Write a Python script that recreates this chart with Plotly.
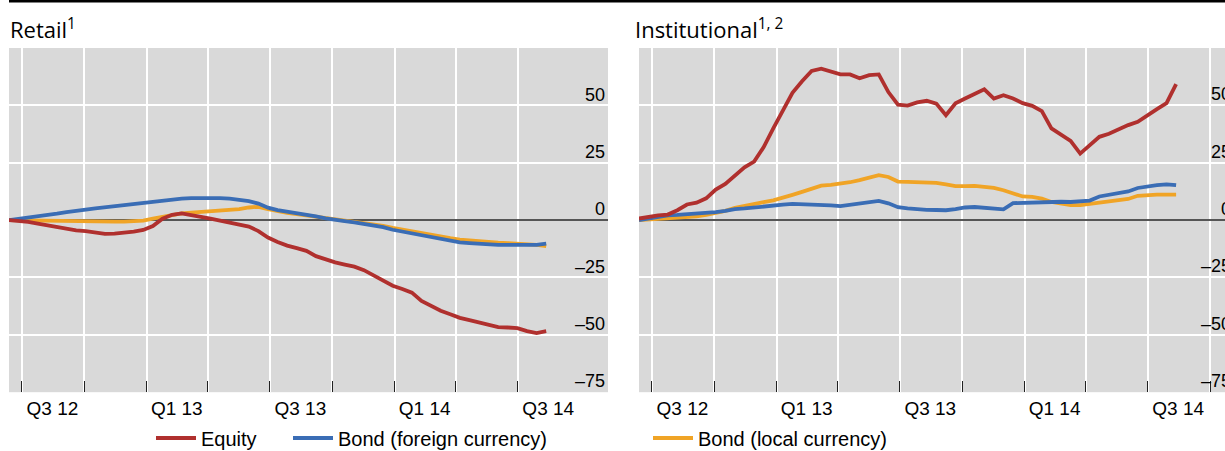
import plotly.graph_objects as go
import pandas as pd

# biweekly observations, mid-June 2012 to mid-August 2014
dates = pd.date_range("2012-06-12", "2014-08-12", periods=57)

retail_equity = [
    0, -0.3, -0.8, -1.5, -2.3, -3.2, -4.1, -4.5, -4.8, -5.4,
    -6.0, -5.9, -5.6, -5.0, -4.3, -2.6, 0.6, 2.3, 2.9, 2.3,
    1.4, 0.6, -0.2, -0.9, -1.8, -2.8, -4.8, -7.6, -9.5, -11.1,
    -12.2, -13.4, -15.7, -17.2, -18.4, -19.4, -20.3, -21.8, -24.0, -26.1,
    -28.6, -30.0, -31.6, -35.2, -37.5, -39.5, -41.0, -42.6, -43.6, -44.6,
    -45.6, -46.6, -46.8, -47.1, -48.4, -49.2, -48.4,
]
retail_bond_fx = [
    0, 0.5, 1.0, 1.6, 2.2, 2.8, 3.5, 4.2, 4.6, 5.1,
    5.6, 6.0, 6.5, 7.0, 7.4, 8.0, 8.7, 9.2, 9.4, 9.6,
    9.7, 9.7, 9.6, 9.4, 9.0, 8.3, 7.2, 5.4, 4.4, 3.8,
    3.2, 2.5, 1.6, 0.8, 0.0, -0.4, -1.0, -1.6, -2.3, -3.1,
    -4.2, -5.0, -5.8, -6.7, -7.5, -8.4, -9.1, -9.7, -10.0, -10.4,
    -10.6, -10.8, -10.8, -10.8, -10.8, -10.8, -10.3,
]
retail_bond_local = [
    0, -0.1, -0.1, -0.2, -0.2, -0.2, -0.3, -0.3, -0.4, -0.5,
    -0.6, -0.7, -0.7, -0.5, -0.2, 0.6, 1.5, 2.4, 2.9, 3.3,
    3.6, 3.9, 4.1, 4.4, 4.8, 5.5, 5.8, 4.8, 3.9, 3.2,
    2.6, 2.0, 1.4, 0.7, 0.0, -0.3, -0.8, -1.3, -1.8, -2.5,
    -3.4, -4.2, -5.0, -5.7, -6.5, -7.2, -7.9, -8.5, -8.9, -9.3,
    -9.6, -9.8, -10.0, -10.2, -10.4, -10.8, -11.3,
]
inst_equity = [
    0.7, 1.5, 2.1, 2.4, 4.3, 6.8, 7.6, 9.5, 13.3, 15.8,
    19.5, 23.0, 25.5, 31.8, 40.0, 48.0, 55.5, 60.5, 65.0, 66.0,
    64.8, 63.5, 63.5, 61.8, 63.2, 63.5, 55.8, 50.3, 49.9, 51.3,
    52.0, 50.8, 45.7, 50.9, 53.0, 54.8, 57.0, 53.0, 54.4, 53.0,
    51.0, 49.8, 47.5, 40.0, 37.3, 34.5, 29.0, 32.5, 36.3, 37.6,
    39.5, 41.4, 42.8, 45.8, 48.4, 51.0, 59.3,
]
inst_bond_fx = [
    0, 0.8, 1.5, 2.1, 2.3, 2.5, 2.7, 3.0, 3.5, 4.0,
    4.8, 5.1, 5.4, 5.7, 6.1, 6.7, 7.1, 7.0, 6.9, 6.7,
    6.4, 6.1, 6.6, 7.4, 8.0, 8.4, 7.3, 5.6, 5.1, 4.7,
    4.5, 4.4, 4.3, 4.8, 5.5, 5.7, 5.3, 4.9, 4.7, 7.4,
    7.6, 7.8, 8.0, 8.1, 8.0, 7.9, 8.2, 8.5, 10.3, 10.9,
    11.7, 12.5, 14.0, 14.8, 15.2, 15.6, 15.2,
]
inst_bond_local = [
    0, 0.2, 0.5, 0.7, 1.0, 1.3, 1.6, 2.3, 3.0, 4.0,
    5.3, 6.0, 7.0, 7.8, 8.6, 9.6, 11.0, 12.3, 13.7, 15.0,
    15.4, 15.8, 16.5, 17.4, 18.5, 19.6, 18.8, 16.8, 16.7, 16.6,
    16.4, 16.2, 15.6, 14.8, 14.8, 14.9, 14.5, 14.0, 13.0, 11.8,
    10.3, 10.1, 9.4, 7.9, 7.2, 6.5, 6.5, 7.0, 7.9, 8.3,
    8.6, 9.2, 10.6, 11.0, 11.1, 11.1, 11.1,
]

quarter_labels = ["Q3 12", "Q1 13", "Q3 13", "Q1 14", "Q3 14"]
quarter_label_dates = ["2012-08-15", "2013-02-14", "2013-08-15", "2014-02-14", "2014-08-15"]
year_starts = ["2013-01-01", "2014-01-01"]
y_ticks = [-75, -50, -25, 0, 25, 50]
y_tick_text = ["\u201375", "\u201350", "\u201325", "0", "25", "50"]

RED = "#B0302E"
BLUE = "#3A6DB5"
ORANGE = "#F0A426"
GRAY = "#D9D9D9"
W, H = 1225, 451
# the container-anchored legends reserve space at the bottom; P is the paper height left over
P = 418.3
ARIAL = "Arial, Liberation Sans, sans-serif"
TICK_FONT = dict(family=ARIAL, size=19, color="black")

fig = go.Figure()

panels = [
    ("x", "y", retail_equity, retail_bond_fx, retail_bond_local),
    ("x2", "y2", inst_equity, inst_bond_fx, inst_bond_local),
]
for i, (xa, ya, eq, fx, loc) in enumerate(panels):
    fig.add_trace(go.Scatter(x=dates, y=loc, xaxis=xa, yaxis=ya, mode="lines",
                             line=dict(color=ORANGE, width=3.8), name="Bond (local currency)",
                             legend="legend3", showlegend=(i == 1)))
    fig.add_trace(go.Scatter(x=dates, y=fx, xaxis=xa, yaxis=ya, mode="lines",
                             line=dict(color=BLUE, width=3.8), name="Bond (foreign currency)",
                             legend="legend2", showlegend=(i == 0)))
    fig.add_trace(go.Scatter(x=dates, y=eq, xaxis=xa, yaxis=ya, mode="lines",
                             line=dict(color=RED, width=3.8), name="Equity",
                             legend="legend", showlegend=(i == 0)))

# plot area from 48px to 392px below the top
y_dom = [(P - 392) / P, (P - 48) / P]
x_common = dict(
    tickvals=quarter_label_dates, ticktext=quarter_labels, ticks="", showgrid=False,
    zeroline=False, showline=False, tickfont=TICK_FONT, ticklabelstandoff=3, automargin=False,
    minor=dict(tick0="2012-07-01", dtick="M3", ticks="inside", ticklen=11,
               tickcolor="#222", tickwidth=1, showgrid=True, gridcolor="white", gridwidth=1.5),
)
long_ticks = dict(tickvals=year_starts, ticks="inside", ticklen=23, tickcolor="#222",
                  tickwidth=1, showticklabels=False, showgrid=False, zeroline=False)
y_common = dict(range=[-75, 75], tickvals=y_ticks, ticktext=y_tick_text, side="right",
                ticks="", gridcolor="white", gridwidth=2, zeroline=True, automargin=False,
                zerolinecolor="#555555", zerolinewidth=2, domain=y_dom, showline=False)

left_range = ["2012-06-12", "2014-11-11"]
right_range = ["2012-06-12", "2014-10-23"]
legend_common = dict(orientation="h", xanchor="left", yref="container", y=13 / H, yanchor="middle",
                     itemwidth=40, font=dict(family=ARIAL, size=20, color="black"),
                     bgcolor="rgba(0,0,0,0)")

fig.update_layout(
    width=W, height=H, autosize=False,
    margin=dict(l=0, r=0, t=0, b=0),
    paper_bgcolor="white", plot_bgcolor=GRAY,
    xaxis=dict(domain=[9 / W, 608 / W], range=left_range, anchor="y", **x_common),
    xaxis2=dict(domain=[639 / W, 1], range=right_range, anchor="y2", **x_common),
    xaxis3=dict(domain=[9 / W, 608 / W], range=left_range, anchor="y", overlaying="x", **long_ticks),
    xaxis4=dict(domain=[639 / W, 1], range=right_range, anchor="y2", overlaying="x2", **long_ticks),
    yaxis=dict(anchor="x", ticklabelposition="inside", ticklabelshift=-11,
               tickfont=dict(family=ARIAL, size=18, color="black"), **y_common),
    yaxis2=dict(anchor="x2", showticklabels=False, **y_common),
    legend=dict(x=151 / W, **legend_common),
    legend2=dict(x=288 / W, **legend_common),
    legend3=dict(x=648 / W, **legend_common),
    showlegend=True,
)

# panel titles
title_font = dict(family="Open Sans, Noto Sans, sans-serif", size=22, color="black")
fig.add_annotation(text="Retail<sup>1</sup>", xref="paper", yref="paper", x=8 / W, y=1 - 28 / P,
                   xanchor="left", yanchor="middle", showarrow=False, font=title_font)
fig.add_annotation(text="Institutional<sup>1, 2</sup>", xref="paper", yref="paper", x=633 / W,
                   y=1 - 28 / P, xanchor="left", yanchor="middle", showarrow=False, font=title_font)

# right panel scale labels, cut off by the page edge as in the original
for v, t in zip(y_ticks, y_tick_text):
    fig.add_annotation(text=t, xref="x2 domain", yref="y2", x=(1233 - 639) / 586, y=v, yshift=11,
                       xanchor="right", yanchor="middle", showarrow=False,
                       font=dict(family=ARIAL, size=18, color="black"))

# heavy rule across the top
fig.add_shape(type="rect", xref="paper", yref="paper", x0=9 / W, x1=1, y0=1 - 2.5 / P, y1=1,
              fillcolor="black", line=dict(width=0))

fig.write_html("out.html", config={"displayModeBar": False},
               post_script="document.body.style.margin='0';document.body.style.overflow='hidden';")
